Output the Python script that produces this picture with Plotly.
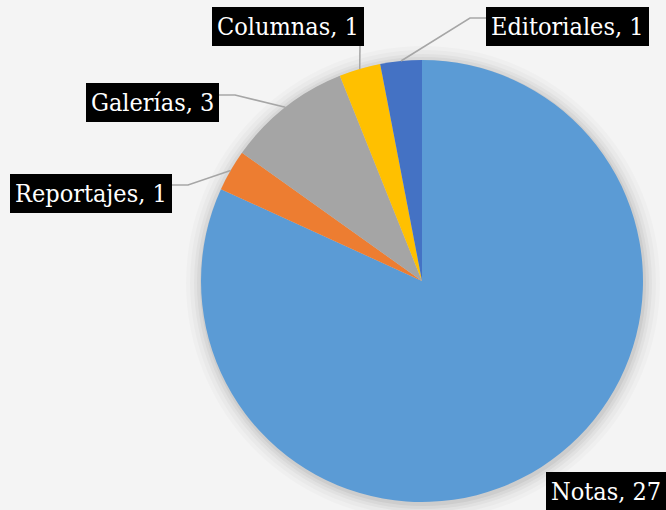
import math
import plotly.graph_objects as go

# Article types and counts
categories = ["Notas", "Reportajes", "Galerías", "Columnas", "Editoriales"]
counts = [27, 1, 3, 1, 1]
colors = ["#5B9BD5", "#ED7D31", "#A5A5A5", "#FFC000", "#4472C4"]

W, H = 666, 510
CX, CY, R = 422, 281, 221  # pie centre and radius in pixels


def px(x):
    return x / W


def py(y):
    return 1 - y / H


fig = go.Figure(
    go.Pie(
        labels=categories,
        values=counts,
        sort=False,
        direction="clockwise",
        rotation=0,
        marker=dict(colors=colors, line=dict(width=0)),
        textinfo="none",
        hoverinfo="label+value",
        showlegend=False,
        domain=dict(x=[px(CX - R), px(CX + R)], y=[py(CY + R), py(CY - R)]),
    )
)

# Edge point of each slice at its mid angle (clockwise from 12 o'clock)
total = sum(counts)
edge = {}
acc = 0
for name, v in zip(categories, counts):
    mid = (acc + v / 2) / total * 2 * math.pi
    edge[name] = (CX + R * math.sin(mid), CY - R * math.cos(mid))
    acc += v

shapes = []
# soft shadow around the pie
for k, op in [(16, 0.018), (12, 0.025), (8, 0.032), (5, 0.04), (2, 0.05)]:
    shapes.append(dict(
        type="circle", xref="paper", yref="paper", layer="below",
        x0=px(CX - R - k + 1), x1=px(CX + R + k + 1),
        y0=py(CY + R + k + 2), y1=py(CY - R - k + 2),
        fillcolor=f"rgba(0,0,0,{op})", line=dict(width=0),
    ))

# label boxes: anchor point, anchors, leader line points before the slice edge
label_font = dict(family="DejaVu Serif Condensed, DejaVu Serif, serif", size=25, color="white")
boxes = {
    "Editoriales": dict(x=486, y=7, xanchor="left", yanchor="top", path=[(486, 18), (470, 18)]),
    "Columnas": dict(x=364, y=7, xanchor="right", yanchor="top", path=[(360, 44)]),
    "Galerías": dict(x=219, y=83, xanchor="right", yanchor="top", path=[(219, 95), (235, 95)]),
    "Reportajes": dict(x=172, y=174, xanchor="right", yanchor="top", path=[(172, 185), (188, 185)]),
    "Notas": dict(x=666, y=511, xanchor="right", yanchor="bottom", path=None),
}

annotations = []
for name, v in zip(categories, counts):
    b = boxes[name]
    annotations.append(dict(
        text=f"{name}, {v}", x=px(b["x"]), y=py(b["y"]), xref="paper", yref="paper",
        xanchor=b["xanchor"], yanchor=b["yanchor"], showarrow=False,
        bgcolor="black", borderpad=5, borderwidth=0, font=label_font,
    ))
    if b["path"]:
        pts = b["path"] + [edge[name]]
        d = "M " + " L ".join(f"{px(x):.5f},{py(y):.5f}" for x, y in pts)
        shapes.append(dict(type="path", xref="paper", yref="paper", path=d,
                           line=dict(color="#A6A6A6", width=1.5)))

fig.update_layout(
    width=W, height=H,
    margin=dict(l=0, r=0, t=0, b=0),
    paper_bgcolor="#F4F4F4",
    plot_bgcolor="#F4F4F4",
    shapes=shapes,
    annotations=annotations,
)

fig.write_html("out.html")
